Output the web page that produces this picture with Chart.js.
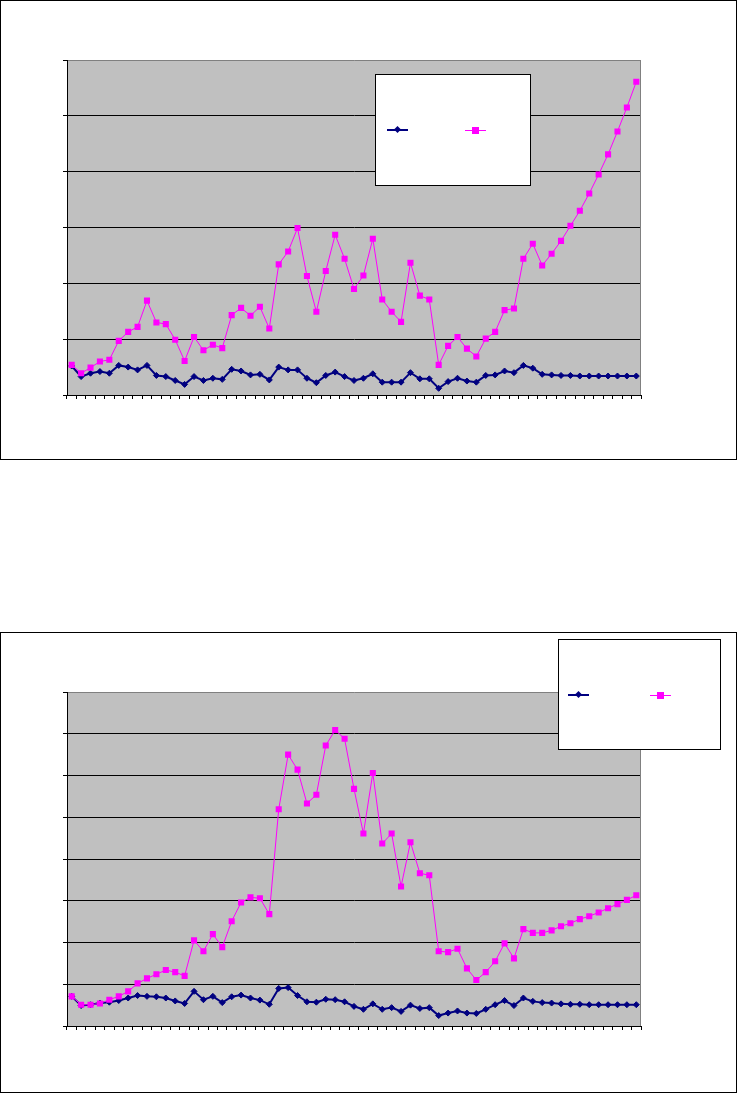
<!DOCTYPE html>
<html>
<head>
<meta charset="utf-8">
<script src="https://cdn.jsdelivr.net/npm/chart.js@4"></script>
<style>
  body { margin: 0; background: #fff; width: 737px; height: 1093px; position: relative; overflow: hidden; }
  .box { position: absolute; left: 0; width: 737px; border: 1px solid #000; box-sizing: border-box; }
  canvas { position: absolute; left: 0; }
  .legend { position: absolute; background: #fff; border: 1px solid #000; box-sizing: border-box; z-index: 5; }
  .lg { position: absolute; }
</style>
</head>
<body>
<div class="box" style="top:0;height:460px"></div>
<div class="box" style="top:632px;height:461px"></div>
<canvas id="chartTop" width="737" height="460" style="top:0"></canvas>
<canvas id="chartBottom" width="737" height="461" style="top:632px"></canvas>

<div class="legend" style="left:375px;top:74px;width:156px;height:112px">
  <div class="lg" style="left:11px;top:54px;width:21px;height:2px;background:#000080"></div>
  <div class="lg" style="left:19px;top:52px;width:5px;height:5px;background:#000080;transform:rotate(45deg)"></div>
  <div class="lg" style="left:89px;top:55px;width:21px;height:1px;background:#ff00ff"></div>
  <div class="lg" style="left:96px;top:52px;width:7px;height:7px;background:#ff00ff"></div>
</div>
<div class="legend" style="left:558px;top:639px;width:163px;height:111px">
  <div class="lg" style="left:9px;top:54px;width:21px;height:2px;background:#000080"></div>
  <div class="lg" style="left:17px;top:52px;width:5px;height:5px;background:#000080;transform:rotate(45deg)"></div>
  <div class="lg" style="left:91px;top:55px;width:21px;height:1px;background:#ff00ff"></div>
  <div class="lg" style="left:98px;top:52px;width:7px;height:7px;background:#ff00ff"></div>
</div>

<script>
// 61 points on the x axis, no labels printed
const categories = [1,2,3,4,5,6,7,8,9,10,11,12,13,14,15,16,17,18,19,20,
  21,22,23,24,25,26,27,28,29,30,31,32,33,34,35,36,37,38,39,40,
  41,42,43,44,45,46,47,48,49,50,51,52,53,54,55,56,57,58,59,60,61];

// top chart (axis 0 - 60)
const topBlue = [5.2,3.3,3.9,4.2,3.9,5.3,5.0,4.5,5.3,3.5,3.3,2.6,1.9,3.3,2.6,3.0,2.8,4.6,4.3,3.6,
  3.7,2.7,5.0,4.5,4.5,3.0,2.2,3.5,4.1,3.3,2.6,3.0,3.8,2.3,2.3,2.3,4.0,2.9,2.9,1.2,
  2.4,3.0,2.5,2.3,3.5,3.6,4.3,4.0,5.3,4.8,3.7,3.6,3.5,3.5,3.4,3.4,3.4,3.4,3.4,3.4,3.4];
const topPink = [5.4,3.9,4.9,6.0,6.3,9.7,11.3,12.2,16.9,13.0,12.7,9.9,6.1,10.4,8.0,9.0,8.4,14.3,15.6,14.2,
  15.8,11.9,23.4,25.7,29.9,21.3,14.9,22.2,28.7,24.4,19.0,21.4,28.0,17.1,14.9,13.1,23.7,17.8,17.1,5.4,
  8.8,10.4,8.3,6.9,10.1,11.3,15.2,15.5,24.4,27.1,23.2,25.3,27.6,30.3,33.0,36.1,39.5,43.1,47.2,51.5,56.1];
const topTicks = { min: 0, max: 60, step: 10 };

// bottom chart (axis 0 - 80)
const bottomBlue = [7.1,4.9,5.1,5.5,5.7,6.1,6.7,7.3,7.1,7.0,6.7,6.0,5.4,8.3,6.3,7.1,5.6,7.0,7.4,6.7,
  6.2,5.2,9.0,9.2,7.3,5.8,5.7,6.4,6.3,5.8,4.7,4.0,5.3,4.0,4.4,3.5,5.0,4.2,4.4,2.5,
  3.1,3.6,3.1,3.0,4.0,5.1,6.1,4.9,6.7,5.9,5.6,5.5,5.3,5.2,5.2,5.1,5.1,5.1,5.1,5.1,5.1];
const bottomPink = [7.1,5.1,5.1,5.4,6.3,7.1,8.3,10.2,11.4,12.4,13.4,12.9,12.0,20.5,17.9,22.0,18.9,25.1,29.6,30.8,
  30.6,26.8,51.9,65.0,61.4,53.3,55.4,67.2,70.9,68.8,56.8,46.1,60.6,43.7,46.1,33.4,44.0,36.6,36.1,17.9,
  17.7,18.5,13.8,11.0,12.9,15.5,19.8,16.2,23.2,22.3,22.3,22.9,23.9,24.6,25.6,26.3,27.2,28.2,29.2,30.2,31.3];
const bottomTicks = { min: 0, max: 80, step: 10 };

// grey plot area with a grey right edge
const plotArea = {
    id: 'plotArea',
    beforeDraw(chart) {
        const a = chart.chartArea, ctx = chart.ctx;
        ctx.save();
        ctx.fillStyle = '#c0c0c0';
        ctx.fillRect(a.left, a.top, a.right - a.left, a.bottom - a.top);
        ctx.restore();
    },
    beforeDatasetsDraw(chart) {
        const a = chart.chartArea, ctx = chart.ctx;
        ctx.save();
        ctx.strokeStyle = '#808080';
        ctx.lineWidth = 1;
        ctx.beginPath();
        ctx.moveTo(Math.round(a.right) - 0.5, a.top);
        ctx.lineTo(Math.round(a.right) - 0.5, a.bottom);
        ctx.stroke();
        ctx.restore();
    }
};

function makeChart(id, blue, pink, yTicks, xAxisHeight) {
    let ctx = document.getElementById(id).getContext('2d');
    return new Chart(ctx, {
        type: 'line',
        data: {
            labels: categories,
            datasets: [{
                label: 'Series 1',
                data: blue,
                borderColor: '#000080',
                backgroundColor: '#000080',
                borderWidth: 2,
                pointStyle: 'rectRot',
                pointRadius: 3,
                pointBorderWidth: 1,
                tension: 0,
                order: 1
            }, {
                label: 'Series 2',
                data: pink,
                borderColor: '#ff00ff',
                backgroundColor: '#ff00ff',
                borderWidth: 1,
                pointStyle: 'rect',
                pointRadius: 4.3,
                pointBorderWidth: 0,
                tension: 0,
                order: 0
            }]
        },
        options: {
            responsive: false,
            animation: false,
            devicePixelRatio: 1,
            layout: { padding: { top: 60, right: 96, left: 0, bottom: 0 } },
            plugins: { legend: { display: false }, tooltip: { enabled: false } },
            scales: {
                x: {
                    offset: true,
                    ticks: { display: false },
                    grid: { offset: true, drawOnChartArea: false, tickLength: 4, tickColor: '#000', color: '#000' },
                    border: { color: '#000', width: 1 },
                    afterFit: function(scale) { scale.height = xAxisHeight; }
                },
                y: {
                    min: yTicks.min,
                    max: yTicks.max,
                    ticks: { display: false, stepSize: yTicks.step },
                    grid: {
                        tickLength: 4,
                        tickColor: '#000',
                        color: function(c) { return c.tick && c.tick.value === yTicks.max ? '#808080' : '#000'; }
                    },
                    border: { color: '#000', width: 1 },
                    afterFit: function(scale) { scale.width = 67; }
                }
            }
        },
        plugins: [plotArea]
    });
}

makeChart('chartTop', topBlue, topPink, topTicks, 65);
makeChart('chartBottom', bottomBlue, bottomPink, bottomTicks, 67);
</script>
</body>
</html>
